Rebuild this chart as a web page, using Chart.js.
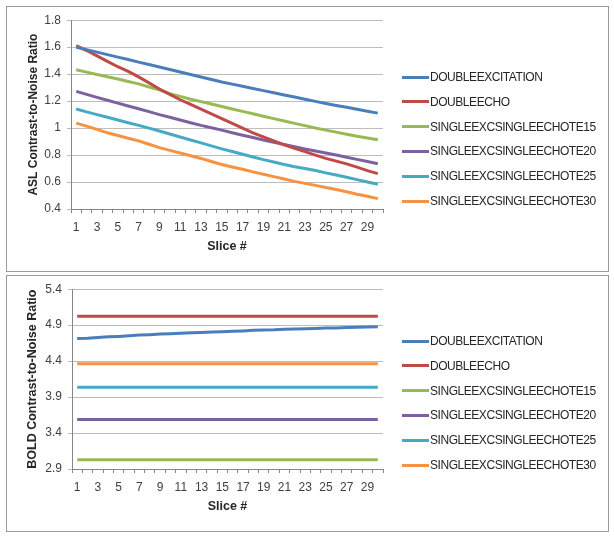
<!DOCTYPE html>
<html><head><meta charset="utf-8">
<script src="https://cdn.jsdelivr.net/npm/chart.js@4.4.1/dist/chart.umd.min.js"></script>
<style>
html,body{margin:0;padding:0;background:#fff;}
.frame{position:absolute;left:6px;width:601px;border:1px solid #9a9a9a;background:#fff;}
#f1{top:6px;height:264px;}
#f2{top:275px;height:255px;}
canvas{display:block;}
.leg{position:absolute;left:402px;font-family:'Liberation Sans',Arial,sans-serif;font-size:12px;letter-spacing:-0.45px;color:#262626;white-space:nowrap;}
.leg .item{position:absolute;left:0;height:14px;line-height:14px;}
.leg .sw{position:absolute;left:0;top:5.5px;width:27px;height:3px;}
.leg .tx{position:absolute;left:28px;top:0;}
</style></head><body>
<div class="frame" id="f1"><canvas id="c1" width="601" height="264"></canvas></div>
<div class="frame" id="f2"><canvas id="c2" width="601" height="255"></canvas></div>
<div class="leg" id="leg1" style="top:0px"></div>
<div class="leg" id="leg2" style="top:0px"></div>
<script>
const slices = [1,2,3,4,5,6,7,8,9,10,11,12,13,14,15,16,17,18,19,20,21,22,23,24,25,26,27,28,29,30];
const seriesNames = ["DOUBLEEXCITATION","DOUBLEECHO","SINGLEEXCSINGLEECHOTE15","SINGLEEXCSINGLEECHOTE20","SINGLEEXCSINGLEECHOTE25","SINGLEEXCSINGLEECHOTE30"];
const seriesColors = ["#4A7EBB","#BE4B48","#98B954","#7D60A0","#46AAC5","#F69240"];

// ASL contrast-to-noise ratio
const aslDoubleExcitation = [1.600,1.582,1.563,1.545,1.526,1.508,1.489,1.471,1.453,1.434,1.416,1.397,1.379,1.360,1.342,1.326,1.310,1.294,1.278,1.262,1.246,1.230,1.214,1.198,1.183,1.168,1.154,1.139,1.125,1.111];
const aslDoubleEcho = [1.612,1.575,1.535,1.495,1.455,1.420,1.380,1.335,1.290,1.250,1.210,1.175,1.140,1.105,1.070,1.035,1.000,0.965,0.935,0.905,0.875,0.850,0.825,0.800,0.775,0.755,0.735,0.710,0.685,0.662];
const aslTE15 = [1.432,1.415,1.398,1.381,1.364,1.346,1.328,1.305,1.283,1.255,1.235,1.214,1.196,1.178,1.160,1.142,1.124,1.106,1.088,1.070,1.052,1.035,1.018,1.000,0.985,0.970,0.955,0.940,0.927,0.914];
const aslTE20 = [1.272,1.250,1.228,1.206,1.185,1.164,1.143,1.122,1.100,1.080,1.060,1.040,1.020,1.003,0.985,0.965,0.947,0.930,0.912,0.895,0.878,0.862,0.845,0.830,0.815,0.800,0.784,0.768,0.752,0.736];
const aslTE25 = [1.141,1.120,1.100,1.080,1.060,1.040,1.020,1.000,0.978,0.956,0.934,0.912,0.890,0.868,0.846,0.826,0.806,0.786,0.766,0.748,0.730,0.714,0.700,0.685,0.668,0.652,0.636,0.618,0.600,0.583];
const aslTE30 = [1.037,1.015,0.990,0.965,0.945,0.925,0.905,0.880,0.855,0.835,0.815,0.795,0.775,0.752,0.730,0.712,0.695,0.675,0.658,0.640,0.622,0.605,0.590,0.575,0.560,0.545,0.528,0.510,0.495,0.477];

// BOLD contrast-to-noise ratio
const boldDoubleExcitation = [4.715,4.718,4.728,4.738,4.744,4.752,4.762,4.768,4.776,4.781,4.789,4.794,4.799,4.804,4.808,4.815,4.820,4.828,4.834,4.837,4.844,4.847,4.850,4.855,4.860,4.862,4.867,4.871,4.875,4.877];
const boldDoubleEcho = [5.025,5.025,5.025,5.025,5.025,5.025,5.025,5.025,5.025,5.025,5.025,5.025,5.025,5.025,5.025,5.025,5.025,5.025,5.025,5.025,5.025,5.025,5.025,5.025,5.025,5.025,5.025,5.025,5.025,5.025];
const boldTE15 = [3.028,3.028,3.028,3.028,3.028,3.028,3.028,3.028,3.028,3.028,3.028,3.028,3.028,3.028,3.028,3.028,3.028,3.028,3.028,3.028,3.028,3.028,3.028,3.028,3.028,3.028,3.028,3.028,3.028,3.028];
const boldTE20 = [3.590,3.590,3.590,3.590,3.590,3.590,3.590,3.590,3.590,3.590,3.590,3.590,3.590,3.590,3.590,3.590,3.590,3.590,3.590,3.590,3.590,3.590,3.590,3.590,3.590,3.590,3.590,3.590,3.590,3.590];
const boldTE25 = [4.035,4.035,4.035,4.035,4.035,4.035,4.035,4.035,4.035,4.035,4.035,4.035,4.035,4.035,4.035,4.035,4.035,4.035,4.035,4.035,4.035,4.035,4.035,4.035,4.035,4.035,4.035,4.035,4.035,4.035];
const boldTE30 = [4.363,4.363,4.363,4.363,4.363,4.363,4.363,4.363,4.363,4.363,4.363,4.363,4.363,4.363,4.363,4.363,4.363,4.363,4.363,4.363,4.363,4.363,4.363,4.363,4.363,4.363,4.363,4.363,4.363,4.363];

const aslTicks = [0.4,0.6,0.8,1.0,1.2,1.4,1.6,1.8];
const boldTicks = [2.9,3.4,3.9,4.4,4.9,5.4];

const FONT = "'Liberation Sans', Arial, sans-serif";

function buildLegend(el, firstCenterY, step) {
  seriesNames.forEach((name, i) => {
    const item = document.createElement('div');
    item.className = 'item';
    item.style.top = (firstCenterY + i * step - 7) + 'px';
    const sw = document.createElement('span');
    sw.className = 'sw';
    sw.style.background = seriesColors[i];
    const tx = document.createElement('span');
    tx.className = 'tx';
    tx.textContent = name;
    item.appendChild(sw); item.appendChild(tx);
    el.appendChild(item);
  });
}

function makeChart(canvasId, seriesData, ticks, yTitle, yTitleSize, cfg) {
  const canvas = document.getElementById(canvasId);
  const datasets = seriesData.map((d, i) => ({
    label: seriesNames[i],
    data: d,
    borderColor: seriesColors[i],
    backgroundColor: seriesColors[i],
    borderWidth: 3,
    pointRadius: 0,
    tension: 0,
    fill: false
  }));
  return new Chart(canvas, {
    type: 'line',
    data: { labels: slices.map(String), datasets: datasets },
    options: {
      responsive: false,
      animation: false,
      events: [],
      layout: { padding: { left: cfg.padLeft, top: cfg.padTop, bottom: cfg.padBottom, right: cfg.padRight } },
      plugins: {
        tooltip: { enabled: false },
        legend: { display: false }
      },
      scales: {
        x: {
          type: 'category',
          offset: true,
          grid: { offset: true, drawOnChartArea: false, drawTicks: true, tickLength: 4, color: '#868686' },
          border: { display: true, color: '#868686', width: 1 },
          ticks: {
            autoSkip: false, maxRotation: 0, padding: 7, color: '#404040',
            font: { family: FONT, size: 12 },
            callback: function (v, idx) { return idx % 2 === 0 ? slices[idx] : ''; }
          },
          title: { display: true, text: 'Slice #', color: '#262626', padding: 0, font: { family: FONT, size: 12.5, weight: 'bold' } },
          afterFit: s => { s.height = 45; }
        },
        y: {
          position: 'left',
          min: ticks[0],
          max: ticks[ticks.length - 1],
          afterBuildTicks: s => { s.ticks = ticks.map(v => ({ value: v })); },
          grid: { color: '#BDBDBD', lineWidth: 1, drawTicks: true, tickLength: 4 },
          border: { display: true, color: '#868686', width: 1 },
          ticks: {
            padding: 6, color: '#404040',
            font: { family: FONT, size: 12 },
            callback: v => String(Math.round(v * 10) / 10)
          },
          title: { display: true, text: yTitle, color: '#262626', padding: 0, font: { family: FONT, size: yTitleSize, weight: 'bold' } },
          afterFit: s => { s.width = cfg.yWidth; }
        }
      }
    }
  });
}

makeChart('c1', [aslDoubleExcitation, aslDoubleEcho, aslTE15, aslTE20, aslTE25, aslTE30], aslTicks,
  'ASL Contrast-to-Noise Ratio', 12,
  { padLeft: 19, yWidth: 45, padTop: 13, padBottom: 17, padRight: 225 });
makeChart('c2', [boldDoubleExcitation, boldDoubleEcho, boldTE15, boldTE20, boldTE25, boldTE30], boldTicks,
  'BOLD Contrast-to-Noise Ratio', 12.5,
  { padLeft: 18.5, yWidth: 46.5, padTop: 13, padBottom: 17, padRight: 225 });

buildLegend(document.getElementById('leg1'), 77, 24.8);
buildLegend(document.getElementById('leg2'), 341, 24.8);
</script>
</body></html>
